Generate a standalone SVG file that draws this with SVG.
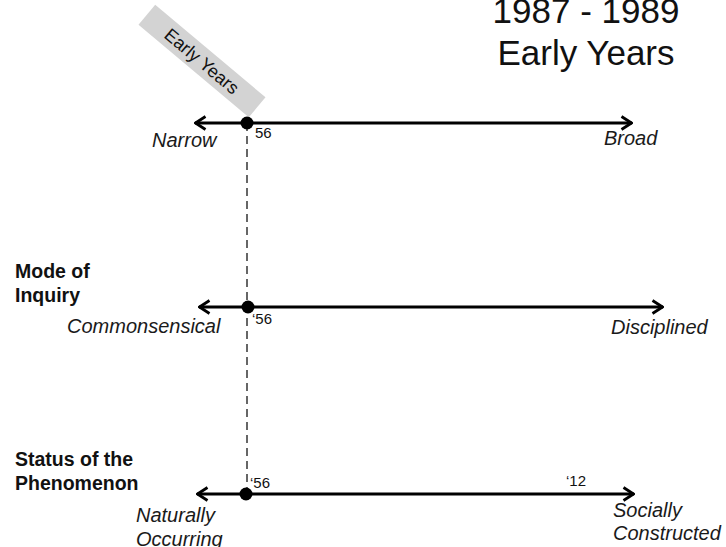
<svg xmlns="http://www.w3.org/2000/svg" width="726" height="547" viewBox="0 0 726 547">
<defs>
<style>
text{font-family:"Liberation Sans",Arial,sans-serif;fill:#111}
.title{font-size:35px;text-anchor:middle}
.lab{font-size:20px;font-style:italic;fill:#1a1a1a}
.head{font-size:19.5px;font-weight:bold}
.yr{font-size:15px}
.axis{stroke:#000;stroke-width:2.8;fill:none;marker-start:url(#ah);marker-end:url(#ah)}
.dot{fill:#000}
</style>
<marker id="ah" viewBox="0 0 13 16" refX="12" refY="8" markerWidth="13" markerHeight="16" markerUnits="userSpaceOnUse" orient="auto-start-reverse">
<path d="M1.5,1.5 L11.5,8 L1.5,14.5" fill="none" stroke="#000" stroke-width="2.8" stroke-linejoin="miter"/>
</marker>
</defs>
<g id="title">
<text class="title" x="586" y="23">1987 - 1989</text>
<text class="title" x="586" y="65">Early Years</text>
</g>
<g id="connectors">
<line x1="247" y1="123" x2="247" y2="494" stroke="#666" stroke-width="2" stroke-dasharray="8,5"/>
<line class="axis" x1="195" y1="123" x2="632" y2="123"/>
<line class="axis" x1="199" y1="307" x2="663" y2="307"/>
<line class="axis" x1="197" y1="494" x2="634" y2="494"/>
</g>
<g id="era-tag">
<g transform="translate(202,61) rotate(40)">
<rect x="-72" y="-13" width="144" height="26" fill="#d3d3d3"/>
<text x="0" y="6.5" font-size="18" text-anchor="middle">Early Years</text>
</g>
</g>
<g id="scope">
<circle class="dot" cx="247" cy="123" r="6.5"/>
<text class="yr" x="255" y="138">56</text>
<text class="lab" x="152" y="147">Narrow</text>
<text class="lab" x="604" y="145">Broad</text>
</g>
<g id="mode-of-inquiry">
<text class="head" x="15" y="278">Mode of</text>
<text class="head" x="15" y="302">Inquiry</text>
<circle class="dot" cx="248" cy="307" r="6.5"/>
<text class="yr" x="252" y="324">‘56</text>
<text class="lab" x="67" y="333">Commonsensical</text>
<text class="lab" x="611" y="334">Disciplined</text>
</g>
<g id="status-of-phenomenon">
<text class="head" x="15" y="466">Status of the</text>
<text class="head" x="15" y="490">Phenomenon</text>
<circle class="dot" cx="246" cy="494" r="6.5"/>
<text class="yr" x="250" y="488">‘56</text>
<text class="yr" x="566" y="486">‘12</text>
<text class="lab" x="136" y="522">Naturally</text>
<text class="lab" x="136" y="546">Occurring</text>
<text class="lab" x="613" y="517">Socially</text>
<text class="lab" x="613" y="540">Constructed</text>
</g>
</svg>
